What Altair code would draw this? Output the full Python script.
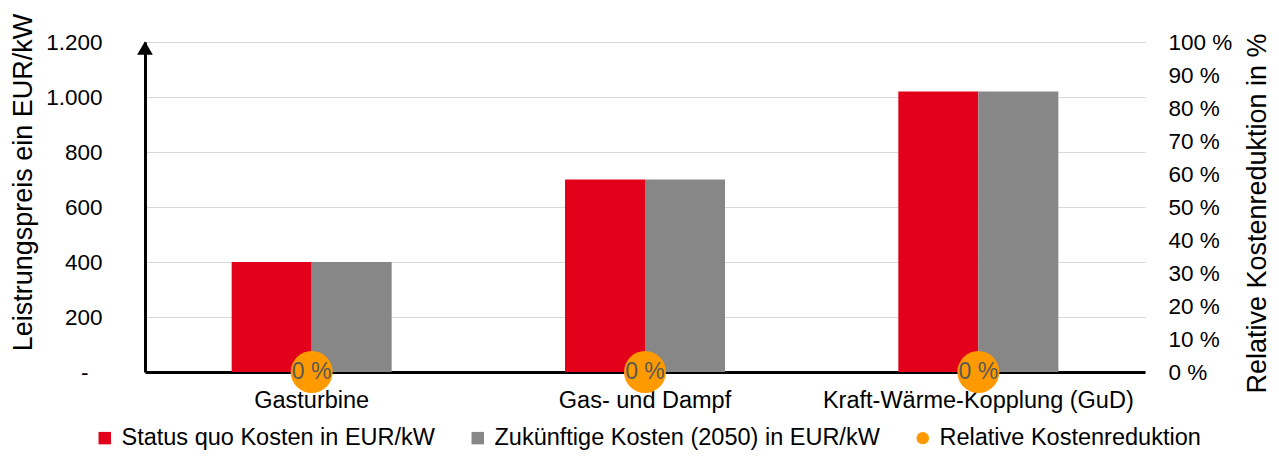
import altair as alt
import pandas as pd

categories = ["Gasturbine", "Gas- und Dampf", "Kraft-Wärme-Kopplung (GuD)"]
status_quo = [400, 700, 1020]
future_2050 = [400, 700, 1020]
reduction_pct = [0, 0, 0]

series_names = [
    "Status quo Kosten in EUR/kW",
    "Zukünftige Kosten (2050) in EUR/kW",
    "Relative Kostenreduktion",
]
series_colors = ["#E2001A", "#878787", "#FF9900"]
left_ticks = [0, 200, 400, 600, 800, 1000, 1200]
right_ticks = [0, 10, 20, 30, 40, 50, 60, 70, 80, 90, 100]

bars_df = pd.DataFrame(
    {
        "category": categories * 2,
        "series": [series_names[0]] * 3 + [series_names[1]] * 3,
        "value": status_quo + future_2050,
    }
)
red_df = pd.DataFrame(
    {"category": categories, "series": [series_names[2]] * 3, "pct": reduction_pct}
)
arrow_df = pd.DataFrame({"top": [max(left_ticks)]})

FONT = "Liberation Sans"

x_enc = alt.X(
    "category:N",
    sort=categories,
    scale=alt.Scale(paddingInner=0.52, paddingOuter=0.26),
    axis=alt.Axis(
        title=None,
        labelFontSize=23.5,
        labelColor="black",
        labelPadding=16,
        labelAngle=0,
        labelLimit=0,
        ticks=False,
        tickSize=0,
        domainColor="black",
        domainWidth=3,
        grid=False,
        zindex=0,
    ),
)

color_enc = alt.Color(
    "series:N",
    scale=alt.Scale(domain=series_names, range=series_colors),
    legend=alt.Legend(
        title=None,
        orient="none",
        legendX=-52,
        legendY=384,
        direction="horizontal",
        labelFontSize=23.5,
        labelColor="black",
        labelLimit=0,
        symbolType={"expr": "datum.value == 'Relative Kostenreduktion' ? 'circle' : 'square'"},
        symbolSize=155,
        symbolStrokeWidth=0,
        symbolOpacity=1,
        labelOffset=5,
        columnPadding=31,
    ),
)

left_axis = alt.Axis(
    title="Leistrungspreis ein EUR/kW",
    titleFontSize=27,
    titleFontWeight="normal",
    titleColor="black",
    titleAngle=270,
    titleX=-122,
    titleY=140,
    titleBaseline="middle",
    titleAlign="center",
    titleLimit=0,
    labelFontSize=22.5,
    labelColor="black",
    labelPadding={"condition": {"test": "datum.value == 0", "value": 57}, "value": 43},
    labelBaseline="middle",
    ticks=False,
    tickSize=0,
    domainColor="black",
    domainWidth=3,
    gridColor="#d9d9d9",
    gridWidth=1.2,
    values=left_ticks,
    labelExpr="datum.value == 0 ? '-' : replace(format(datum.value, ','), ',', '.')",
)
left_scale = alt.Scale(domain=[0, 1200], nice=False)

bars = (
    alt.Chart(bars_df)
    .mark_bar()
    .encode(
        x=x_enc,
        xOffset=alt.XOffset("series:N", sort=series_names[:2], scale=alt.Scale(paddingInner=0, paddingOuter=0)),
        y=alt.Y("value:Q", scale=left_scale, axis=left_axis),
        color=color_enc,
    )
)

arrow = (
    alt.Chart(arrow_df)
    .mark_point(shape="triangle-up", filled=True, color="black", opacity=1, size=246, yOffset=6)
    .encode(x=alt.value(0), y=alt.Y("top:Q", scale=left_scale, axis=left_axis))
)

right_axis = alt.Axis(
    title="Relative Kostenreduktion in %",
    titleFontSize=27,
    titleFontWeight="normal",
    titleColor="black",
    titleAngle=270,
    titleX=112,
    titleY=171,
    titleBaseline="middle",
    titleAlign="center",
    titleLimit=0,
    orient="right",
    labelFontSize=22.5,
    labelColor="black",
    labelPadding=23,
    labelBaseline="middle",
    ticks=False,
    tickSize=0,
    domain=False,
    grid=False,
    values=right_ticks,
    labelExpr="datum.value + ' %'",
)
right_scale = alt.Scale(domain=[0, 100], nice=False)

circles = (
    alt.Chart(red_df)
    .mark_point(filled=True, opacity=1, size=1764, shape="circle")
    .encode(
        x=x_enc,
        y=alt.Y("pct:Q", scale=right_scale, axis=right_axis),
        color=color_enc,
    )
)

circle_text = (
    alt.Chart(red_df)
    .transform_calculate(label="format(datum.pct, 'd') + ' %'")
    .mark_text(fontSize=23, color="#595959", baseline="middle", align="center")
    .encode(
        x=x_enc,
        y=alt.Y("pct:Q", scale=right_scale, axis=right_axis),
        text="label:N",
    )
)

left_layer = alt.layer(bars, arrow)
right_layer = alt.layer(circles, circle_text)

chart = (
    alt.layer(left_layer, right_layer)
    .resolve_scale(y="independent")
    .properties(
        width=1000,
        height=330,
        autosize=alt.AutoSizeParams(type="none"),
        padding={"left": 137, "top": 34, "right": 126, "bottom": 79},
    )
    .configure(font=FONT)
    .configure_view(stroke=None)
)

chart.save("out.html", embed_options={"renderer": "svg", "actions": False})
